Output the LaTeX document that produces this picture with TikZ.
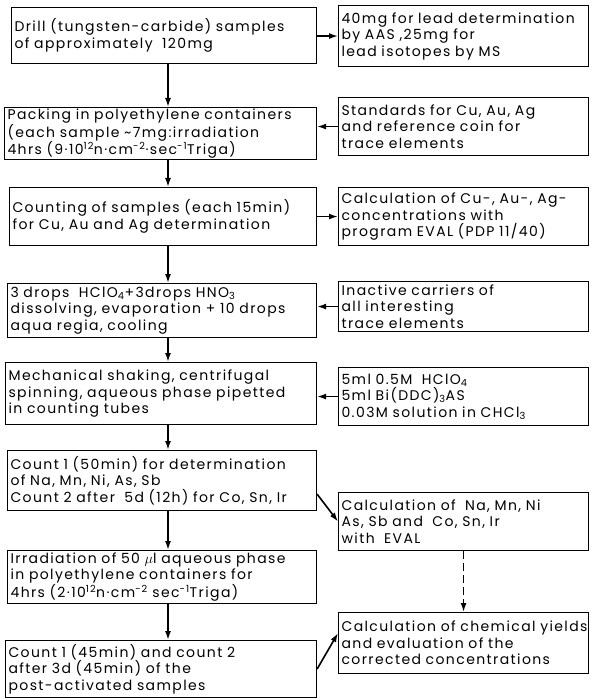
\documentclass[tikz,border=0pt]{standalone}
\usepackage{fontspec}
\setmainfont[LetterSpace=10]{Poppins}
\usetikzlibrary{arrows.meta}
\tikzset{
  box/.style={draw, line width=1.1pt, anchor=north west, align=left, inner xsep=3pt, inner ysep=1pt,
    font=\fontsize{14}{16.5}\selectfont},
  arr/.style={line width=1.6pt, -{Latex[length=9pt,width=6pt]}},
}
\begin{document}
\begin{tikzpicture}[x=1pt,y=-1pt]
\useasboundingbox (0,0) rectangle (591,700);
\coordinate (spine) at (168,0);
\node[box, text width=299pt, minimum height=56pt] (drill) at (11,7) {Drill (tungsten-carbide) samples\\of approximately~~120mg};
\node[box, text width=306pt, minimum height=48pt] (pack) at (4,107) {Packing in polyethylene containers\\(each sample \textasciitilde7mg:irradiation\\4hrs (9·10\textsuperscript{12}n·cm\textsuperscript{-2}·sec\textsuperscript{-1}Triga)};
\node[box, text width=301pt, minimum height=58pt] (count) at (9,187) {Counting of samples (each 15min)\\for Cu, Au and Ag determination};
\node[box, text width=303pt, minimum height=54pt] (drops) at (7,283) {3 drops~~HClO\textsubscript{4}+3drops HNO\textsubscript{3}\\dissolving, evaporation + 10 drops\\aqua regia, cooling};
\node[box, text width=305pt, minimum height=62pt] (mech) at (5,362) {Mechanical shaking, centrifugal\\spinning, aqueous phase pipetted\\in counting tubes};
\node[box, text width=303pt, minimum height=60pt] (cnt1) at (7,450) {Count 1 (50min) for determination\\of Na, Mn, Ni, As, Sb\\Count 2 after~~5d (12h) for Co, Sn, Ir};
\node[box, text width=303pt, minimum height=53pt] (irr) at (7,550) {Irradiation of 50 $\mu$l aqueous phase\\in polyethylene containers for\\4hrs (2·10\textsuperscript{12}n·cm\textsuperscript{-2} sec\textsuperscript{-1}Triga)};
\node[box, text width=305pt, minimum height=57pt] (final) at (5,640) {Count 1 (45min) and count 2\\after 3d (45min) of the\\post-activated samples};
\node[box, text width=244pt, minimum height=61pt] (r1) at (338,5) {40mg for lead determination\\by AAS ,25mg for\\lead isotopes by MS};
\node[box, text width=244pt, minimum height=58pt] (r2) at (338,97) {Standards for Cu, Au, Ag\\and reference coin for\\trace elements};
\node[box, text width=244pt, minimum height=58pt] (r3) at (338,187) {Calculation of Cu-, Au-, Ag-\\concentrations with\\program EVAL (PDP 11/40)};
\node[box, text width=244pt, minimum height=50pt] (r4) at (338,281) {Inactive carriers of\\all interesting\\trace elements};
\node[box, text width=244pt, minimum height=58pt] (r5) at (338,367) {5ml 0.5M~~HClO\textsubscript{4}\\5ml Bi(DDC)\textsubscript{3}AS\\0.03M solution in CHCl\textsubscript{3}};
\node[box, text width=244pt, minimum height=58pt] (r6) at (338,492) {Calculation of~~Na, Mn, Ni\\As, Sb and~~Co, Sn, Ir\\with~~EVAL};
\node[box, text width=244pt, minimum height=61pt] (r7) at (338,612) {Calculation of chemical yields\\and evaluation of the\\corrected concentrations};
\draw[arr] (drill.south -| spine) -- (pack.north -| spine);
\draw[arr] (pack.south -| spine) -- (count.north -| spine);
\draw[arr] (count.south -| spine) -- (drops.north -| spine);
\draw[arr] (drops.south -| spine) -- (mech.north -| spine);
\draw[arr] (mech.south -| spine) -- (cnt1.north -| spine);
\draw[arr] (cnt1.south -| spine) -- (irr.north -| spine);
\draw[arr] (irr.south -| spine) -- (final.north -| spine);
\draw[arr] (drill.east |- r1.west) -- (r1.west);
\draw[arr] (r2.west) -- (pack.east |- r2.west);
\draw[arr] (count.east |- r3.west) -- (r3.west);
\draw[arr] (r4.west) -- (drops.east |- r4.west);
\draw[arr] (r5.west) -- (mech.east |- r5.west);
\draw[arr] ([yshift=17pt]cnt1.south east) -- (r6.west);
\draw[arr] (final.east) -- ([yshift=10pt]r7.west);
\draw[arr, dashed, dash pattern=on 8pt off 4pt] (r6.south -| r7.north) -- (r7.north);
\end{tikzpicture}
\end{document}
